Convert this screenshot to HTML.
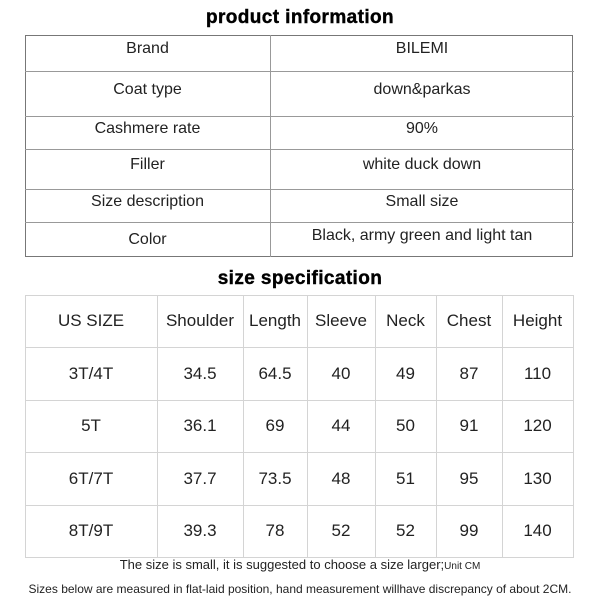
<!DOCTYPE html>
<html><head><style>
body{margin:0;width:600px;height:600px;background:#fff;position:relative;overflow:hidden;font-family:"Liberation Sans",Arial,sans-serif;color:#222}
.a{position:absolute}
.t{position:absolute;font-weight:900;font-size:19px;letter-spacing:0.4px;color:#000;text-align:center;width:600px;left:0px;-webkit-text-stroke:0.4px #000}
.h{position:absolute;background:#999}
.g{position:absolute;background:#d4d4d4}
.c{position:absolute;text-align:center;font-size:16px;transform:translateY(-50%)}
.d{position:absolute;text-align:center;font-size:17px;transform:translateY(-50%)}
</style></head><body>
<div class="t" style="top:7px">product information</div>
<div class="a" style="left:25px;top:35px;width:546px;height:220px;border:1.5px solid #777"></div>
<div class="h" style="left:270px;top:35px;width:1px;height:222px"></div>
<div class="h" style="left:25px;top:71px;width:549px;height:1px"></div>
<div class="h" style="left:25px;top:116px;width:549px;height:1px"></div>
<div class="h" style="left:25px;top:149px;width:549px;height:1px"></div>
<div class="h" style="left:25px;top:189px;width:549px;height:1px"></div>
<div class="h" style="left:25px;top:222px;width:549px;height:1px"></div>
<div class="c" style="left:25px;width:245px;top:49px">Brand</div><div class="c" style="left:270px;width:304px;top:49px">BILEMI</div>
<div class="c" style="left:25px;width:245px;top:90px">Coat type</div><div class="c" style="left:270px;width:304px;top:90px">down&amp;parkas</div>
<div class="c" style="left:25px;width:245px;top:129px">Cashmere rate</div><div class="c" style="left:270px;width:304px;top:129px">90%</div>
<div class="c" style="left:25px;width:245px;top:165px">Filler</div><div class="c" style="left:270px;width:304px;top:165px">white duck down</div>
<div class="c" style="left:25px;width:245px;top:202px">Size description</div><div class="c" style="left:270px;width:304px;top:202px">Small size</div>
<div class="c" style="left:25px;width:245px;top:240px">Color</div><div class="c" style="left:270px;width:304px;top:236px">Black, army green and light tan</div>
<div class="t" style="top:268px">size specification</div>
<div class="a" style="left:25px;top:295px;width:547px;height:261px;border:1px solid #d4d4d4"></div>
<div class="g" style="left:157px;top:295px;width:1px;height:262px"></div>
<div class="g" style="left:243px;top:295px;width:1px;height:262px"></div>
<div class="g" style="left:307px;top:295px;width:1px;height:262px"></div>
<div class="g" style="left:375px;top:295px;width:1px;height:262px"></div>
<div class="g" style="left:436px;top:295px;width:1px;height:262px"></div>
<div class="g" style="left:502px;top:295px;width:1px;height:262px"></div>
<div class="g" style="left:25px;top:347px;width:548px;height:1px"></div>
<div class="g" style="left:25px;top:400px;width:548px;height:1px"></div>
<div class="g" style="left:25px;top:452px;width:548px;height:1px"></div>
<div class="g" style="left:25px;top:505px;width:548px;height:1px"></div>
<div id="s"></div>
<div class="a" style="left:0;width:600px;text-align:center;top:557px;font-size:13px;color:#222">The size is small, it is suggested to choose a size larger;<span style="font-size:10px">Unit CM</span></div>
<div class="a" style="left:0;width:600px;text-align:center;top:582px;font-size:12px;color:#222">Sizes below are measured in flat-laid position, hand measurement willhave discrepancy of about 2CM.</div>
<script>
var xs=[25,157,243,307,375,436,502,573],ys=[321,374,426,479,531];
var rows=[["US SIZE","Shoulder","Length","Sleeve","Neck","Chest","Height"],["3T/4T","34.5","64.5","40","49","87","110"],["5T","36.1","69","44","50","91","120"],["6T/7T","37.7","73.5","48","51","95","130"],["8T/9T","39.3","78","52","52","99","140"]];
var h="";rows.forEach(function(r,i){r.forEach(function(v,j){h+='<div class="d" style="left:'+xs[j]+'px;width:'+(xs[j+1]-xs[j])+'px;top:'+ys[i]+'px">'+v+'</div>';});});
document.getElementById("s").innerHTML=h;
</script>
</body></html>
